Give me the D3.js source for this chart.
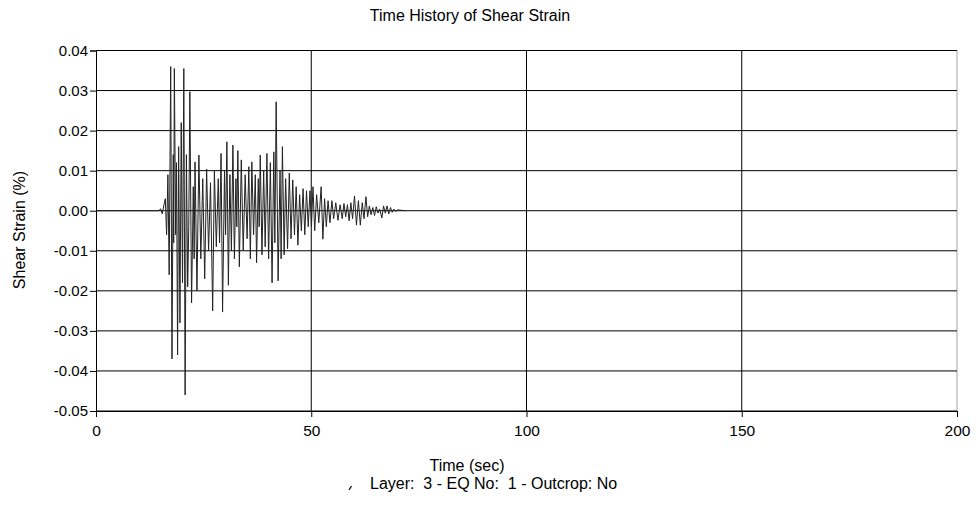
<!DOCTYPE html>
<html>
<head>
<meta charset="utf-8">
<script src="https://cdn.jsdelivr.net/npm/d3@7"></script>
<style>
  html, body { margin: 0; padding: 0; background: #fff; }
  svg { display: block; font-family: "Liberation Sans", Arial, sans-serif; }
</style>
</head>
<body>
<svg id="chart" width="976" height="507"></svg>
<script>
// ---- data ----
const chartTitle = "Time History of Shear Strain";
const xAxisTitle = "Time (sec)";
const yAxisTitle = "Shear Strain (%)";
const legendText = "Layer:  3 - EQ No:  1 - Outcrop: No";

const xTickValues = [0, 50, 100, 150, 200];
const xTickLabels = ["0", "50", "100", "150", "200"];
const yTickValues = [0.04, 0.03, 0.02, 0.01, 0.00, -0.01, -0.02, -0.03, -0.04, -0.05];
const yTickLabels = ["0.04", "0.03", "0.02", "0.01", "0.00", "-0.01", "-0.02", "-0.03", "-0.04", "-0.05"];

const timeSec = [
  0, 14.6, 15.0, 15.4, 15.8, 16.1, 16.4, 16.7, 17.0, 17.35,
  17.65, 17.95, 18.05, 18.2, 18.5, 18.7, 18.95, 19.2, 19.5, 19.8,
  20.1, 20.4, 20.7, 21.0, 21.3, 21.55, 21.8, 22.2, 22.6, 22.8,
  23.0, 23.45, 23.9, 24.35, 24.8, 25.25, 25.7, 26.15, 26.6, 27.1,
  27.5, 27.95, 28.4, 28.7, 29.05, 29.4, 29.85, 30.1, 30.4, 30.75,
  31.1, 31.45, 31.8, 32.15, 32.5, 32.7, 32.95, 33.3, 33.75, 34.2,
  34.65, 35.1, 35.5, 35.85, 36.2, 36.6, 37.0, 37.3, 37.7, 37.9,
  38.15, 38.55, 38.95, 39.3, 39.7, 40.1, 40.5, 40.9, 41.3, 41.55,
  41.85, 42.3, 42.75, 43.0, 43.3, 43.7, 44.05, 44.5, 44.9, 45.3,
  45.7, 46.1, 46.5, 46.9, 47.3, 47.7, 48.1, 48.5, 48.9, 49.3,
  49.7, 50.05, 50.4, 50.8, 51.25, 51.75, 52.3, 52.7, 53.1, 53.5,
  53.9, 54.35, 54.8, 55.2, 55.7, 56.2, 56.7, 57.2, 57.6, 58.0,
  58.4, 58.8, 59.2, 59.6, 60.05, 60.5, 60.95, 61.4, 61.85, 62.25,
  62.7, 63.1, 63.5, 63.9, 64.3, 64.7, 65.1, 65.5, 65.9, 66.4,
  66.8, 67.2, 67.6, 68.0, 68.4, 68.8, 69.2, 69.6, 70.0, 72.0
];
const shearStrain = [
  0, 0, 0.0005, -0.0008, 0.0015, 0.003, -0.006, 0.009, -0.016, 0.036,
  -0.037, 0.014, -0.008, 0.0355, -0.006, 0.012, -0.036, 0.016, -0.028, 0.022,
  -0.018, 0.0355, -0.046, 0.014, -0.019, -0.004, 0.0297, -0.023, 0.006, -0.012,
  0.0122, -0.020, 0.0139, -0.012, 0.008, -0.017, 0.0104, -0.010, 0.007, -0.025,
  0.010, -0.009, 0.008, -0.008, 0.0143, -0.0253, 0.010, -0.006, 0.0172, -0.0186,
  0.009, -0.010, 0.0164, -0.012, 0.008, -0.004, 0.015, -0.014, 0.0127, -0.010,
  0.009, -0.007, 0.011, -0.012, 0.0122, -0.006, 0.009, -0.013, 0.008, -0.004,
  0.0139, -0.011, 0.010, -0.009, 0.0143, -0.012, 0.012, -0.018, 0.0147, -0.008,
  0.0272, -0.0175, 0.010, -0.012, 0.016, -0.011, 0.008, -0.0095, 0.0094, -0.007,
  0.0077, -0.006, 0.006, -0.0086, 0.004, -0.005, 0.0055, -0.006, 0.005, -0.004,
  0.005, -0.004, 0.006, -0.005, 0.004, -0.003, 0.006, -0.0071, 0.003, -0.004,
  0.0025, -0.003, 0.0025, -0.002, 0.002, -0.0024, 0.0015, -0.002, 0.0018, -0.0015,
  0.0015, -0.0025, 0.002, -0.002, 0.0037, -0.0036, 0.0025, -0.0036, 0.002, -0.002,
  0.0035, -0.0015, 0.0012, -0.001, 0.0008, -0.0012, 0.001, -0.0006, 0.0004, -0.0018,
  0.0012, -0.0006, 0.0012, -0.0008, 0.0008, -0.0004, 0.0004, -0.0002, 0.0002, 0
];

// ---- layout ----
const plotLeft = 96, plotRight = 957, plotTop = 50.5, plotBottom = 411;

const svg = d3.select("#chart");
svg.append("rect").attr("width", 976).attr("height", 507).attr("fill", "#fff");

const x = d3.scaleLinear().domain([0, 200]).range([plotLeft, plotRight]);
const y = d3.scaleLinear().domain([-0.05, 0.04]).range([plotBottom, plotTop]);

// horizontal grid lines
svg.append("g").selectAll("line").data(yTickValues).join("line")
  .attr("x1", plotLeft).attr("x2", plotRight)
  .attr("y1", d => y(d)).attr("y2", d => y(d))
  .attr("stroke", "#000").attr("stroke-width", 1);

// vertical grid lines
svg.append("g").selectAll("line").data(xTickValues.slice(1, -1)).join("line")
  .attr("x1", d => x(d)).attr("x2", d => x(d))
  .attr("y1", plotTop).attr("y2", plotBottom)
  .attr("stroke", "#000").attr("stroke-width", 1);

// right border (dotted in the reference)
svg.append("line")
  .attr("x1", x(200)).attr("x2", x(200)).attr("y1", plotTop).attr("y2", plotBottom)
  .attr("stroke", "#444").attr("stroke-width", 1).attr("stroke-dasharray", "1,1");

// series
const line = d3.line().x(d => x(d[0])).y(d => y(d[1]));
const pts = timeSec.map((t, i) => [t, shearStrain[i]]);
svg.append("path").datum(pts)
  .attr("d", line).attr("fill", "none")
  .attr("stroke", "#222").attr("stroke-width", 1);

// axes
const yAxis = d3.axisLeft(y).tickValues(yTickValues)
  .tickFormat((d, i) => yTickLabels[i]).tickSizeOuter(0).tickSize(6).tickPadding(2);
const gy = svg.append("g").attr("transform", `translate(${plotLeft},0)`).call(yAxis);
gy.selectAll("text").attr("font-size", 15).attr("fill", "#000")
  .attr("font-family", "'Liberation Sans', Arial, sans-serif");
gy.selectAll("line, path").attr("stroke", "#000");

const xAxis = d3.axisBottom(x).tickValues(xTickValues)
  .tickFormat((d, i) => xTickLabels[i]).tickSizeOuter(0).tickSize(6).tickPadding(8);
const gx = svg.append("g").attr("transform", `translate(0,${plotBottom})`).call(xAxis);
gx.selectAll("text").attr("font-size", 15.5).attr("fill", "#000")
  .attr("font-family", "'Liberation Sans', Arial, sans-serif");
gx.selectAll("line, path").attr("stroke", "#000");

// titles
svg.append("text").attr("x", 470).attr("y", 21).attr("text-anchor", "middle")
  .attr("font-size", 16).text(chartTitle);
svg.append("text").attr("x", 467).attr("y", 471).attr("text-anchor", "middle")
  .attr("font-size", 16).text(xAxisTitle);
svg.append("text").attr("transform", "translate(25,230) rotate(-90)")
  .attr("text-anchor", "middle").attr("font-size", 16).text(yAxisTitle);

// legend
svg.append("line").attr("x1", 349).attr("y1", 490).attr("x2", 351.5).attr("y2", 486)
  .attr("stroke", "#000").attr("stroke-width", 1.2);
svg.append("text").attr("x", 370).attr("y", 489).attr("font-size", 16)
  .style("white-space", "pre").text(legendText);
</script>
</body>
</html>
